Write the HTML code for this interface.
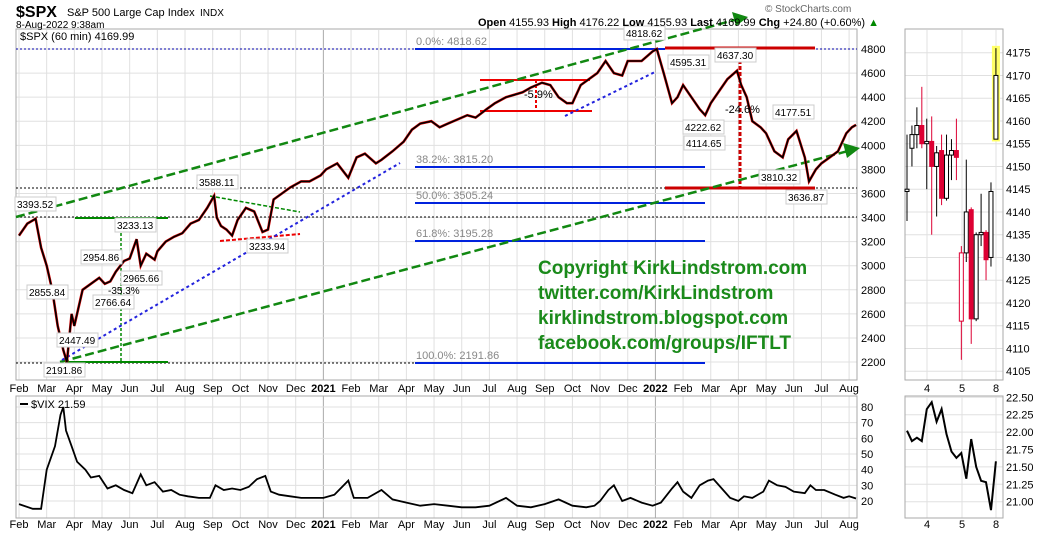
<!DOCTYPE html>
<html><head><meta charset="utf-8"><style>
body{margin:0;background:#fff}
svg{display:block;font-family:"Liberation Sans",sans-serif}
</style></head><body>
<svg id="c" width="1050" height="534" viewBox="0 0 1050 534"></svg>
<script>
// ---- data ----
const spxMonths=[1.0,1.3,1.6,1.8,2.0,2.2,2.4,2.6,2.73,2.9,3.0,3.3,3.6,3.9,4.1,4.3,4.5,4.8,5.0,5.25,5.4,5.6,5.9,6.0,6.3,6.6,6.9,7.2,7.5,7.8,8.05,8.15,8.3,8.5,8.7,8.9,9.2,9.5,9.8,10.0,10.2,10.5,10.8,11.2,11.5,11.9,12.1,12.5,12.9,13.2,13.5,13.9,14.1,14.5,14.9,15.2,15.5,15.9,16.2,16.5,16.9,17.2,17.5,17.9,18.2,18.6,18.9,19.2,19.5,19.9,20.2,20.5,20.8,21.0,21.3,21.6,21.9,22.2,22.5,22.8,23.0,23.5,23.9,24.05,24.3,24.6,24.8,25.0,25.3,25.6,25.8,26.0,26.3,26.6,26.95,27.1,27.3,27.5,27.8,28.0,28.3,28.6,28.8,29.1,29.4,29.55,29.8,30.0,30.3,30.6,30.9,31.1,31.25];
const spxValues=[3250,3350,3390,3150,3000,2800,2500,2300,2200,2600,2500,2800,2850,2900,2850,2870,2950,3040,3060,3220,3000,3100,3050,3120,3200,3240,3270,3350,3380,3480,3580,3400,3330,3300,3250,3380,3480,3450,3280,3300,3550,3600,3650,3700,3700,3750,3800,3850,3730,3900,3930,3850,3880,3950,4030,4130,4180,4200,4150,4180,4220,4250,4230,4300,4350,4400,4420,4440,4480,4520,4500,4400,4350,4350,4500,4550,4600,4700,4600,4580,4700,4700,4780,4800,4600,4350,4400,4500,4400,4300,4250,4350,4450,4550,4620,4500,4400,4200,4150,4100,3950,3900,4050,4120,3900,3700,3800,3850,3900,3950,4100,4150,4170];
const vixMonths=[1.0,1.5,1.8,2.0,2.3,2.5,2.6,2.7,2.9,3.1,3.4,3.6,3.9,4.2,4.5,4.8,5.1,5.4,5.6,5.9,6.2,6.5,6.8,7.1,7.5,7.9,8.1,8.4,8.7,9.0,9.3,9.6,9.9,10.1,10.4,10.8,11.2,11.6,12.0,12.4,12.9,13.1,13.6,14.1,14.5,15.0,15.5,16.0,16.5,17.0,17.5,18.0,18.6,19.0,19.5,20.0,20.5,21.0,21.5,21.8,22.0,22.3,22.5,22.8,23.1,23.5,23.9,24.2,24.6,24.8,25.0,25.3,25.6,25.9,26.1,26.4,26.7,27.0,27.2,27.5,27.9,28.1,28.4,28.7,29.0,29.4,29.6,29.8,30.1,30.5,30.8,31.0,31.25];
const vixValues=[18,15,15,40,55,75,80,65,55,45,40,35,36,28,30,27,25,37,30,32,26,27,24,23,22,22,30,27,28,27,29,34,36,26,24,23,22,22,22,24,33,22,22,27,21,19,17,18,17,16,16,17,22,17,16,18,21,17,16,17,20,27,30,20,22,19,17,19,28,32,26,22,30,33,34,28,22,20,23,22,26,33,30,29,26,25,30,27,27,24,22,23,21.6];
const candOpen=[4144.5,4154,4157,4159,4155,4155.5,4150,4153.5,4143,4152.5,4153.5,4131,4131,4140.5,4116.5,4135,4135.5,4130,4156];
const candClose=[4145,4157,4159,4155,4155.5,4150,4153,4143,4152.5,4153.5,4152,4116,4140,4116.5,4135,4135.5,4129.5,4144.5,4170];
const candHigh=[4157,4159,4163,4167.5,4160.5,4161,4154.5,4157,4157,4156,4160.5,4132.5,4151.5,4141,4135.5,4144,4136,4146.5,4176];
const candLow=[4138,4150,4154,4154,4145,4135,4139,4141.5,4142.5,4147,4147,4107.5,4129,4111,4116,4132.5,4125,4128,4156];
const vixSmall=[22.02,21.87,21.92,21.87,22.33,22.43,22.15,22.33,21.97,21.72,21.63,21.70,21.33,21.90,21.50,21.30,21.28,20.88,21.58];
const monthLabels=["Feb","Mar","Apr","May","Jun","Jul","Aug","Sep","Oct","Nov","Dec","2021","Feb","Mar","Apr","May","Jun","Jul","Aug","Sep","Oct","Nov","Dec","2022","Feb","Mar","Apr","May","Jun","Jul","Aug"];
const priceTicks=[2200,2400,2600,2800,3000,3200,3400,3600,3800,4000,4200,4400,4600,4800];
const vixTicks=[20,30,40,50,60,70,80];
const smallTicks=[4105,4110,4115,4120,4125,4130,4135,4140,4145,4150,4155,4160,4165,4170,4175];
const smallVixTicks=[21.00,21.25,21.50,21.75,22.00,22.25,22.50];

// ---- axes ----
const X=m=>19+(m-1)*27.67;
const Y=v=>49+(4800-v)*0.1204;
const VY=v=>501-(v-20)*1.567;
const SX=i=>907+i*4.94;
const SY=v=>52.7+(4175-v)*4.55;
const SVY=v=>397.3+(22.5-v)*69.6;

const svg=document.getElementById('c');
const NS='http://www.w3.org/2000/svg';
function el(tag,attrs,name,parent){const e=document.createElementNS(NS,tag);for(const k in attrs)e.setAttribute(k,attrs[k]);


(parent||svg).appendChild(e);return e;}
function txt(x,y,s,name,attrs){const t=el('text',Object.assign({x:x,y:y,'font-size':11,fill:'#000'},attrs||{}),name);t.textContent=s;return t;}

const mainG=el('g',{},'main-grid');
monthLabels.forEach((l,i)=>{const x=X(i+1);const yr=/^20/.test(l);
 el('line',{x1:x,y1:30,x2:x,y2:380,stroke:yr?'#aaa':'#e0e0e0'},'month-gridline',mainG);
 el('line',{x1:x,y1:396,x2:x,y2:518,stroke:yr?'#aaa':'#e0e0e0'},'vix-month-gridline',mainG);
 const a=yr?{'font-weight':'bold','text-anchor':'middle'}:{'text-anchor':'middle'};
 txt(x,392,l,'x-tick-label',a);txt(x,528,l,'vix-x-tick-label',a);});
priceTicks.forEach(v=>{el('line',{x1:16,y1:Y(v),x2:857,y2:Y(v),stroke:'#e0e0e0'},'price-gridline',mainG);txt(861,Y(v)+4,v,'price-tick-label');});
vixTicks.forEach(v=>{el('line',{x1:16,y1:VY(v),x2:857,y2:VY(v),stroke:'#e0e0e0'},'vix-gridline',mainG);txt(861,VY(v)+4,v,'vix-tick-label');});
[4,5,8].forEach((d,i)=>{const x=[927,962,996][i];
 el('line',{x1:x,y1:30,x2:x,y2:380,stroke:'#e0e0e0'},'small-gridline',mainG);el('line',{x1:x,y1:396,x2:x,y2:518,stroke:'#e0e0e0'},'small-vix-gridline',mainG);
 txt(x,392,d,'small-x-label',{'text-anchor':'middle'});txt(x,528,d,'small-vix-x-label',{'text-anchor':'middle'});});
smallTicks.forEach(v=>{el('line',{x1:905,y1:SY(v),x2:1003,y2:SY(v),stroke:'#e0e0e0'},'small-gridline-h',mainG);txt(1006,SY(v)+4,v,'small-tick-label');});
smallVixTicks.forEach(v=>{el('line',{x1:905,y1:SVY(v),x2:1003,y2:SVY(v),stroke:'#e0e0e0'},'small-vix-gridline-h',mainG);txt(1006,SVY(v)+4,v.toFixed(2),'small-vix-tick-label');});
el('rect',{x:16,y:29,width:841,height:351,fill:'none',stroke:'#aaa'},'main-panel-frame');
el('rect',{x:16,y:396,width:841,height:122,fill:'none',stroke:'#aaa'},'vix-panel-frame');
el('rect',{x:905,y:29,width:98,height:351,fill:'none',stroke:'#aaa'},'small-panel-frame');
el('rect',{x:905,y:396,width:98,height:122,fill:'none',stroke:'#aaa'},'small-vix-frame');

[[49,16,857],[188,16,857],[217,16,857],[363,16,415]].forEach(d=>el('line',{x1:d[1],y1:d[0],x2:d[2],y2:d[0],stroke:'#000','stroke-dasharray':'2,2'},'support-dotted-line'));
el('line',{x1:16,y1:49,x2:857,y2:49,stroke:'#00a','stroke-dasharray':'2,2'},'top-dotted-line');

[[49,665,'0.0%: 4818.62'],[167,705,'38.2%: 3815.20'],[203,705,'50.0%: 3505.24'],[241,705,'61.8%: 3195.28'],[363,705,'100.0%: 2191.86']].forEach(f=>{
 el('line',{x1:415,y1:f[0],x2:f[1],y2:f[0],stroke:'#0022dd','stroke-width':2},'fib-line');txt(416,f[0]-4,f[2],'fib-label',{fill:'#888'});});

el('line',{x1:665,y1:48,x2:815,y2:48,stroke:'#c00','stroke-width':3},'red-high-line');
el('line',{x1:665,y1:188,x2:815,y2:188,stroke:'#c00','stroke-width':3},'red-low-line');
el('line',{x1:740,y1:48,x2:740,y2:188,stroke:'#c00','stroke-width':3,'stroke-dasharray':'4,2'},'red-drawdown-line');
el('line',{x1:480,y1:80,x2:590,y2:80,stroke:'#e00','stroke-width':2},'red-range-top');
el('line',{x1:480,y1:111,x2:592,y2:111,stroke:'#e00','stroke-width':2},'red-range-bottom');
el('line',{x1:536,y1:80,x2:536,y2:111,stroke:'#e00','stroke-width':2,'stroke-dasharray':'3,2'},'red-range-vertical');
el('line',{x1:220,y1:241,x2:300,y2:234,stroke:'#e00','stroke-width':2,'stroke-dasharray':'4,2'},'red-support-dash');

el('line',{x1:75,y1:218,x2:168,y2:218,stroke:'#080','stroke-width':2},'green-top-line');
el('line',{x1:65,y1:362,x2:168,y2:362,stroke:'#080','stroke-width':2},'green-bottom-line');
el('line',{x1:121,y1:218,x2:121,y2:362,stroke:'#080','stroke-width':1.5,'stroke-dasharray':'3,2'},'green-vertical');
el('line',{x1:210,y1:196,x2:300,y2:212,stroke:'#080','stroke-width':1.5,'stroke-dasharray':'4,2'},'green-small-dash');
el('line',{x1:16,y1:217,x2:738,y2:19,stroke:'#181','stroke-width':2.5,'stroke-dasharray':'9,4'},'upper-channel-line');
el('polygon',{points:'748,17 732,12 736,26',fill:'#181'},'upper-channel-arrow');
el('line',{x1:60,y1:362,x2:848,y2:151,stroke:'#181','stroke-width':2.5,'stroke-dasharray':'9,4'},'lower-channel-line');
el('polygon',{points:'860,148 843,143 847,158',fill:'#181'},'lower-channel-arrow');
el('line',{x1:62,y1:360,x2:400,y2:163,stroke:'#22d','stroke-width':2,'stroke-dasharray':'3,3'},'blue-trend-line');
el('line',{x1:565,y1:116,x2:655,y2:72,stroke:'#22d','stroke-width':2,'stroke-dasharray':'3,3'},'blue-trend-line-2');

let p=spxMonths.map((m,i)=>X(m).toFixed(1)+','+Y(spxValues[i]).toFixed(1)).join(' ');
el('polyline',{points:p,fill:'none',stroke:'#d00','stroke-width':2.6},'spx-price-shadow');
el('polyline',{points:p,fill:'none',stroke:'#000','stroke-width':1.6},'spx-price-line');
p=vixMonths.map((m,i)=>X(m).toFixed(1)+','+VY(vixValues[i]).toFixed(1)).join(' ');
el('polyline',{points:p,fill:'none',stroke:'#000','stroke-width':1.8},'vix-line');
p=vixSmall.map((v,i)=>SX(i).toFixed(1)+','+SVY(v).toFixed(1)).join(' ');
el('polyline',{points:p,fill:'none',stroke:'#000','stroke-width':2},'small-vix-line');

el('rect',{x:SX(18)-4,y:SY(4176.5),width:8,height:SY(4155.5)-SY(4176.5),fill:'#ff6'},'last-candle-highlight');
candOpen.forEach((o,i)=>{const c=candClose[i];const up=c>=o;const col=(up&&i!==11)?'#000':'#d03';const x=SX(i);
 el('line',{x1:x,y1:SY(candHigh[i]),x2:x,y2:SY(candLow[i]),stroke:col},'candle-wick');
 const t=Math.min(SY(o),SY(c));const h=Math.max(1,Math.abs(SY(o)-SY(c)));
 el('rect',{x:x-2,y:t,width:4,height:h,fill:(up||i===11)?'#fff':col,stroke:col},'candle-body');});

const labs=[[16,208,'3393.52'],[198,186,'3588.11'],[116,229,'3233.13'],[82,261,'2954.86'],[122,282,'2965.66'],[28,296,'2855.84'],[94,306,'2766.64'],[58,344,'2447.49'],[45,374,'2191.86'],[248,250,'3233.94'],[625,37,'4818.62'],[669,66,'4595.31'],[716,59,'4637.30'],[684,131,'4222.62'],[685,147,'4114.65'],[774,116,'4177.51'],[760,181,'3810.32'],[787,201,'3636.87']];
labs.forEach(l=>{el('rect',{x:l[0]-1,y:l[1]-11,width:41,height:14,fill:'#fff',stroke:'#ccc'},'price-label-box');txt(l[0]+1,l[1],l[2],'price-label',{'font-size':10});});
txt(108,294,'-35.3%','pct-label',{'font-size':10});
txt(524,98,'-5.9%','pct-label',{'font-size':11});
txt(725,113,'-24.6%','pct-label',{'font-size':11});

['Copyright KirkLindstrom.com','twitter.com/KirkLindstrom','kirklindstrom.blogspot.com','facebook.com/groups/IFTLT'].forEach((s,i)=>txt(538,274+i*25,s,'copyright-text',{'font-size':19,'font-weight':'bold',fill:'#1a8a1a'}));

txt(16,17,'$SPX','ticker-title',{'font-size':16,'font-weight':'bold'});
txt(67,16,'S&P 500 Large Cap Index','index-name',{'font-size':11});
txt(200,16,'INDX','exchange',{'font-size':10});
txt(16,28,'8-Aug-2022 9:38am','date-stamp',{'font-size':10});
txt(20,40,'$SPX (60 min) 4169.99','main-legend',{'font-size':11});
txt(765,12,'© StockCharts.com','watermark',{'font-size':10,fill:'#666'});
const h=el('text',{x:478,y:26,'font-size':11},'ohlc-header');
h.innerHTML='<tspan font-weight="bold">Open</tspan> 4155.93 <tspan font-weight="bold">High</tspan> 4176.22 <tspan font-weight="bold">Low</tspan> 4155.93 <tspan font-weight="bold">Last</tspan> 4169.99 <tspan font-weight="bold">Chg</tspan> +24.80 (+0.60%) <tspan fill="#080">▲</tspan>';
el('line',{x1:20,y1:404,x2:28,y2:404,stroke:'#000','stroke-width':2},'vix-legend-swatch');
txt(31,408,'$VIX 21.59','vix-legend',{'font-size':11});
</script>
</body></html>
